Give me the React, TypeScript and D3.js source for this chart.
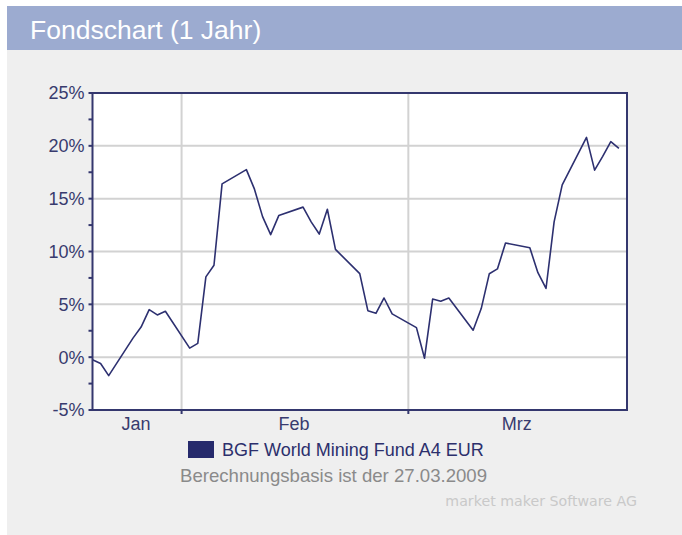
import React from "react";
import * as d3 from "d3";

// ---- data ----
const dates: string[] = [
  "2009-01-21", "2009-01-22", "2009-01-23", "2009-01-26", "2009-01-27", "2009-01-28", "2009-01-29", "2009-01-30",
  "2009-02-02", "2009-02-03", "2009-02-04", "2009-02-05", "2009-02-06",
  "2009-02-09", "2009-02-10", "2009-02-11", "2009-02-12", "2009-02-13",
  "2009-02-16", "2009-02-17", "2009-02-18", "2009-02-19", "2009-02-20",
  "2009-02-23", "2009-02-24", "2009-02-25", "2009-02-26", "2009-02-27",
  "2009-03-02", "2009-03-03", "2009-03-04", "2009-03-05", "2009-03-06",
  "2009-03-09", "2009-03-10", "2009-03-11", "2009-03-12", "2009-03-13",
  "2009-03-16", "2009-03-17", "2009-03-18", "2009-03-19", "2009-03-20",
  "2009-03-23", "2009-03-24", "2009-03-25", "2009-03-26", "2009-03-27",
];
const values: number[] = [
  -0.25, -0.6, -1.75, 1.8, 2.85, 4.5, 4.0, 4.35,
  0.85, 1.3, 7.6, 8.7, 16.4,
  17.75, 15.9, 13.3, 11.6, 13.4,
  14.2, 12.8, 11.65, 14.0, 10.2,
  7.9, 4.4, 4.15, 5.6, 4.1,
  2.8, -0.1, 5.5, 5.3, 5.6,
  2.55, 4.6, 7.9, 8.35, 10.8,
  10.35, 8.0, 6.5, 12.8, 16.3,
  20.8, 17.7, 19.0, 20.4, 19.75,
];
const domainStart = "2009-01-21";
const domainEnd = "2009-03-28";
const monthBoundaries: string[] = ["2009-02-01", "2009-03-01"];
const monthLabels: string[] = ["Jan", "Feb", "Mrz"];
const yMajorTicks: number[] = [-5, 0, 5, 10, 15, 20, 25];
const yMinorTicks: number[] = [-2.5, 2.5, 7.5, 12.5, 17.5, 22.5];

const title = "Fondschart (1 Jahr)";
const seriesName = "BGF World Mining Fund A4 EUR";
const basisText = "Berechnungsbasis ist der 27.03.2009";
const creditText = "market maker Software AG";

// ---- layout ----
const W = 682;
const H = 535;
const plot = { left: 92.5, right: 627, top: 93, bottom: 410 };
const NAVY = "#2d3070";
const AXIS = "#34376e";
const GRID = "#d2d2d2";
const FONT = "'Liberation Sans', Arial, Helvetica, sans-serif";

const parse = (s: string) => new Date(s + "T00:00:00Z");

export default function App() {
  const x = d3.scaleUtc().domain([parse(domainStart), parse(domainEnd)]).range([plot.left, plot.right]);
  const y = d3.scaleLinear().domain([-5, 25]).range([plot.bottom, plot.top]);

  const pts = dates.map((d, i) => ({ d: parse(d), v: values[i] }));
  const line = d3
    .line<{ d: Date; v: number }>()
    .x((p) => x(p.d))
    .y((p) => y(p.v));

  const boundsX = [plot.left, ...monthBoundaries.map((m) => x(parse(m))), plot.right];

  return (
    <svg
      width={W}
      height={H}
      style={{ position: "absolute", left: 0, top: 0, display: "block" }}
      xmlns="http://www.w3.org/2000/svg"
    >
      <rect x={0} y={0} width={W} height={H} fill="#ffffff" />
      {/* panel */}
      <rect x={7} y={50} width={W - 7} height={H - 50} fill="#efefef" />
      {/* header */}
      <rect x={7} y={6} width={W - 7} height={44} fill="#9cabd0" />
      <text x={30} y={39} fill="#ffffff" fontFamily={FONT} fontSize={26.5}>
        {title}
      </text>

      {/* plot background */}
      <rect
        x={plot.left}
        y={plot.top}
        width={plot.right - plot.left}
        height={plot.bottom - plot.top}
        fill="#ffffff"
      />
      {/* horizontal grid */}
      {yMajorTicks
        .filter((t) => t > -5 && t < 25)
        .map((t) => (
          <line key={"hg" + t} x1={plot.left} x2={plot.right} y1={y(t)} y2={y(t)} stroke={GRID} strokeWidth={2} />
        ))}
      {/* vertical grid */}
      {monthBoundaries.map((m) => (
        <line
          key={"vg" + m}
          x1={x(parse(m))}
          x2={x(parse(m))}
          y1={plot.top}
          y2={plot.bottom}
          stroke={GRID}
          strokeWidth={2}
        />
      ))}

      {/* series line */}
      <path d={line(pts) || ""} fill="none" stroke={NAVY} strokeWidth={1.6} strokeLinejoin="round" />

      {/* frame */}
      <rect
        x={plot.left}
        y={plot.top}
        width={plot.right - plot.left}
        height={plot.bottom - plot.top}
        fill="none"
        stroke={AXIS}
        strokeWidth={2}
      />

      {/* y ticks */}
      {yMajorTicks.map((t) => (
        <g key={"yt" + t}>
          <line x1={plot.left - 4} x2={plot.left} y1={y(t)} y2={y(t)} stroke={AXIS} strokeWidth={2} />
          <text
            x={plot.left - 8}
            y={y(t)}
            dy="0.36em"
            textAnchor="end"
            fill="#383b6e"
            fontFamily={FONT}
            fontSize={18}
          >
            {t + "%"}
          </text>
        </g>
      ))}
      {yMinorTicks.map((t) => (
        <line key={"ym" + t} x1={plot.left - 4} x2={plot.left} y1={y(t)} y2={y(t)} stroke={AXIS} strokeWidth={2} />
      ))}

      {/* x ticks */}
      {monthBoundaries.map((m) => (
        <line
          key={"xt" + m}
          x1={x(parse(m))}
          x2={x(parse(m))}
          y1={plot.bottom}
          y2={plot.bottom + 4}
          stroke={AXIS}
          strokeWidth={2}
        />
      ))}
      {monthLabels.map((lab, i) => (
        <text
          key={"xl" + lab}
          x={(boundsX[i] + boundsX[i + 1]) / 2 - 1}
          y={430}
          textAnchor="middle"
          fill="#383b6e"
          fontFamily={FONT}
          fontSize={18}
        >
          {lab}
        </text>
      ))}

      {/* legend */}
      <rect x={188} y={441} width={26} height={17} fill="#262a6c" />
      <text x={222} y={456} fill="#2c2f6c" fontFamily={FONT} fontSize={18}>
        {seriesName}
      </text>
      <text x={180} y={482} fill="#8a8a8a" fontFamily={FONT} fontSize={18.6}>
        {basisText}
      </text>
      <text
        x={637}
        y={506}
        textAnchor="end"
        fill="#c9c9c9"
        fontFamily="'DejaVu Sans', Verdana, sans-serif"
        fontSize={14.2}
      >
        {creditText}
      </text>
    </svg>
  );
}
